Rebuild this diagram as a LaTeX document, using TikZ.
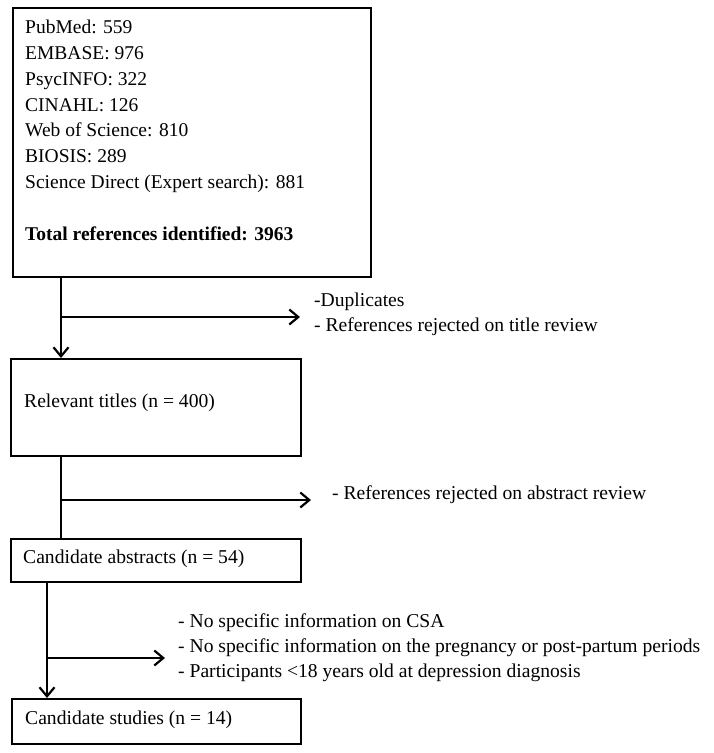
\documentclass[tikz,border=0pt]{standalone}
\usepackage{fontspec}
\setmainfont{Liberation Serif}
\usetikzlibrary{arrows.meta}
\begin{document}
\begin{tikzpicture}[x=1pt,y=-1pt,
  boxnode/.style={draw,line width=1.8pt,rectangle,anchor=north west,inner xsep=0pt,inner ysep=0pt,align=left},
  lbl/.style={anchor=west,inner sep=0pt,align=left,font=\fontsize{19.6}{25}\selectfont},
  conn/.style={line width=1.8pt},
  arr/.style={conn,-{Straight Barb[length=9pt,width=15pt,line width=2.2pt]}}
]
\useasboundingbox (0,0) rectangle (714,753);
% boxes
\node[boxnode,minimum width=358,minimum height=269] (b1) at (12,7) {};
\node[anchor=north west,inner sep=0pt,align=left,font=\fontsize{19.5}{25.8}\selectfont] (t1) at (25,20)
 {PubMed: 559\\EMBASE: 976\\PsycINFO: 322\\CINAHL: 126\\Web of Science: 810\\BIOSIS: 289\\Science Direct (Expert search): 881\\[26pt]\textbf{Total references identified: 3963}};
\node[boxnode,minimum width=290,minimum height=97] (b2) at (10,358) {};
\node[lbl] (t2) at (24,403) {Relevant titles (n = 400)};
\node[boxnode,minimum width=290,minimum height=43] (b3) at (10,538) {};
\node[lbl] (t3) at (23,559) {Candidate abstracts (n = 54)};
\node[boxnode,minimum width=289,minimum height=45] (b4) at (11,698) {};
\node[lbl] (t4) at (25,720) {Candidate studies (n = 14)};
% side labels
\node[lbl] (l1) at (314,314) {-Duplicates\\- References rejected on title review};
\node[lbl] (l2) at (332,495) {- References rejected on abstract review};
\node[lbl] (l3) at (178,648) {- No specific information on CSA\\- No specific information on the pregnancy or post-partum periods\\- Participants <18 years old at depression diagnosis};
% branch coordinates
\coordinate (j1) at (61,317);
\coordinate (e1) at (300,317);
\coordinate (j2) at (61,500);
\coordinate (e2) at (311,500);
\coordinate (j3) at (47,658);
\coordinate (e3) at (165,658);
% connectors
\draw[arr] (b1.south -| j1) -- (b2.north -| j1);
\draw[arr] (j1) -- (e1);
\draw[conn] (b2.south -| j2) -- (b3.north -| j2);
\draw[arr] (j2) -- (e2);
\draw[arr] (b3.south -| j3) -- (b4.north -| j3);
\draw[arr] (j3) -- (e3);
\end{tikzpicture}
\end{document}
